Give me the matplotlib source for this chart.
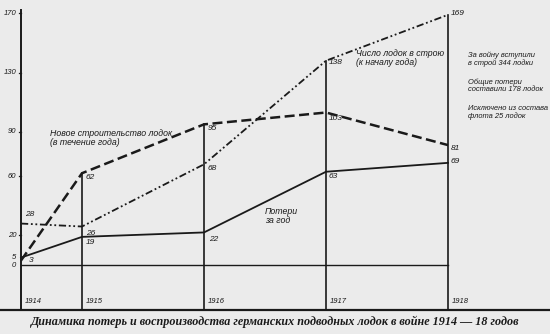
"""
Dynamics of losses and reproduction of German U-boats, 1914-18.
Redrawn from a scanned book figure.
"""
import matplotlib
matplotlib.use("Agg")
import matplotlib.pyplot as plt

# war started in August, so the 1914 point sits mid-year
years = [1914.5, 1915, 1916, 1917, 1918]
year_labels = ["1914", "1915", "1916", "1917", "1918"]

in_service = [28, 26, 68, 138, 169]    # boats in service at start of year
new_built = [3, 62, 95, 103, 81]        # new construction during the year
losses = [5, 19, 22, 63, 69]            # losses per year

ytick_values = [0, 5, 20, 60, 90, 130, 170]

SANS = ["Liberation Sans Narrow", "Liberation Sans", "DejaVu Sans"]
SERIF = ["Liberation Serif", "DejaVu Serif"]
INK = "#1a1a1a"
PAPER = "#ebebeb"

fig = plt.figure(figsize=(5.5, 3.34), dpi=100, facecolor=PAPER)
ax = fig.add_axes([0, 0, 1, 1])
ax.set_facecolor(PAPER)
ax.set_xlim(1914.328, 1918.836)
ax.set_ylim(-46.6, 179.0)
ax.axis("off")

base = -30.4
x0 = years[0]

# axes
ax.plot([x0, x0], [base, 172], color=INK, lw=1.4)
ax.plot([1914.328, 1918.836], [base, base], color=INK, lw=1.6)
ax.plot([x0, years[-1]], [0, 0], color=INK, lw=1.0)

for v in ytick_values:
    if v not in (0, 5):
        ax.plot([x0 - 0.02, x0], [v, v], color=INK, lw=0.9)
    ax.text(x0 - 0.04, v, str(v), ha="right", va="center", fontsize=5.5,
            style="italic", family=SANS, color=INK)

# vertical year lines up to highest value of that year
for i, yr in enumerate(years[1:], start=1):
    top = max(in_service[i], new_built[i], losses[i])
    ax.plot([yr, yr], [base, top], color=INK, lw=1.2)

for yr, lab in zip(years, year_labels):
    ax.text(yr + 0.03, base + 6, lab, ha="left", va="center", fontsize=5.5,
            style="italic", family=SANS, color=INK)

# series
ax.plot(years, in_service, color=INK, lw=1.3,
        dashes=(4, 1.5, 1, 1.5, 1, 1.5))
ax.plot(years, new_built, color=INK, lw=1.8, dashes=(4, 1.8))
ax.plot(years, losses, color=INK, lw=1.3)

# value labels: (x, y, text)
val_labels = [
    (x0 + 0.03, 34, "28"), (x0 + 0.06, 3, "3"),
    (1915.03, 59, "62"), (1915.03, 21, "26"), (1915.03, 15, "19"),
    (1916.03, 92, "95"), (1916.03, 65, "68"), (1916.04, 17, "22"),
    (1917.02, 99, "103"), (1917.02, 60, "63"), (1917.02, 137, "138"),
    (1918.02, 170, "169"), (1918.02, 79, "81"), (1918.02, 70, "69"),
]
for x, y, t in val_labels:
    ax.text(x, y, t, ha="left", va="center", fontsize=6, style="italic",
            family=SANS, color=INK)

# series captions
kw = dict(fontsize=6.3, style="italic", family=SANS, color=INK,
          ha="left", va="center", linespacing=1.0)
ax.text(1914.74, 86, "Новое строительство лодок\n(в течение года)", **kw)
ax.text(1917.25, 140, "Число лодок в строю\n(к началу года)", **kw)
ax.text(1916.5, 33, "Потери\nза год", **kw)

kw_r = dict(kw, fontsize=5.4)
ax.text(1918.16, 139, "За войну вступили\nв строй 344 лодки", **kw_r)
ax.text(1918.16, 121, "Общие потери\nсоставили 178 лодок", **kw_r)
ax.text(1918.16, 103, "Исключено из состава\nфлота 25 лодок", **kw_r)

fig.text(0.5, 12 / 334, "Динамика потерь и воспроизводства германских "
         "подводных лодок в войне 1914 — 18 годов", ha="center",
         va="center", fontsize=8.7, style="italic", weight="bold",
         family=SERIF, color=INK)

fig.savefig("out.png", dpi=100, facecolor=PAPER)
